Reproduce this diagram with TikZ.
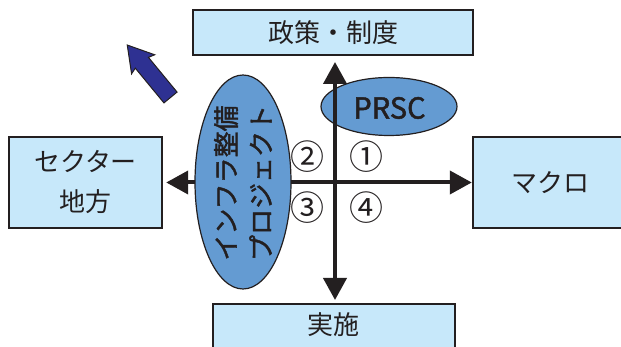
\documentclass[tikz,border=0pt]{standalone}
\usepackage{fontspec}
\setmainfont{Noto Sans CJK JP}
\newfontfamily\infrafont[FakeBold=1.6]{Noto Sans CJK JP}
\usetikzlibrary{arrows.meta,shapes.geometric}
\definecolor{boxfill}{RGB}{199,232,250}
\definecolor{ellfill}{RGB}{100,155,210}
\definecolor{ink}{RGB}{35,31,32}
\definecolor{navy}{RGB}{46,49,146}
\tikzset{
  box/.style={draw=ink, line width=2.4pt, fill=boxfill, rectangle, inner sep=0pt},
  boxtext/.style={text=ink, font=\fontsize{26pt}{40pt}\selectfont, align=center, inner sep=0pt},
  ell/.style={draw=ink, line width=1.2pt, fill=ellfill, ellipse, inner sep=0pt},
  axis/.style={draw=ink, line width=4pt, {Triangle[length=22pt,width=23pt]}-{Triangle[length=22pt,width=23pt]}},
  num/.style={text=ink, font=\fontsize{34pt}{34pt}\selectfont, inner sep=0pt}
}
\begin{document}
\begin{tikzpicture}[x=1pt,y=1pt]
\useasboundingbox (0,0) rectangle (621,347);
% boxes
\node[box, minimum width=280pt, minimum height=45pt] (top) at (333,314.5) {};
\node[boxtext] (toptext) at (333,314.5) {政策・制度};
\node[box, minimum width=153pt, minimum height=91pt] (left) at (85.5,164.5) {};
\node[boxtext] (lefttext) at (85.5,164.5) {セクター\\地方};
\node[box, minimum width=167pt, minimum height=91pt] (macro) at (556.5,164.5) {};
\node[boxtext] (macrotext) at (550,164.5) {マクロ};
\node[box, minimum width=242pt, minimum height=60pt] (bottom) at (334,13) {};
\node[boxtext] (bottomtext) at (333,22) {実施};
% horizontal axis (behind ellipse)
\draw[axis, shorten <=3pt] (left.east) -- (macro.west);
% ellipses
\node[ell, minimum width=96pt, minimum height=214pt] (infra) at (243,165) {};
\node[text=ink, rotate=90, align=center, inner sep=0pt,
      font=\fontsize{26pt}{35pt}\infrafont] (infratext) at (243,164) {インフラ整備\\プロジェクト};
\node[ell, minimum width=136pt, minimum height=58pt] (prsc) at (389,240.5) {};
\node[text=ink, inner sep=0pt, font=\fontsize{29pt}{29pt}\infrafont] (prsctext) at (389.5,239) {PRSC};
% vertical axis
\coordinate (vtop) at (335,285);
\coordinate (vbot) at (335,47);
\draw[axis] (vbot) -- (vtop);
% circled numbers
\node[num] (n1) at (366,190) {①};
\node[num] (n2) at (307,190) {②};
\node[num] (n3) at (307,139) {③};
\node[num] (n4) at (366,139) {④};
% blue arrow
\begin{scope}[shift={(170.5,249.5)}, rotate=129.5]
\filldraw[fill=navy, draw=ink, line width=1pt, line join=miter]
  (0,-8.5) -- (45,-8.5) -- (43,-15) -- (68,0) -- (43,15) -- (45,8.5) -- (0,8.5) -- cycle;
\end{scope}
\end{tikzpicture}
\end{document}
